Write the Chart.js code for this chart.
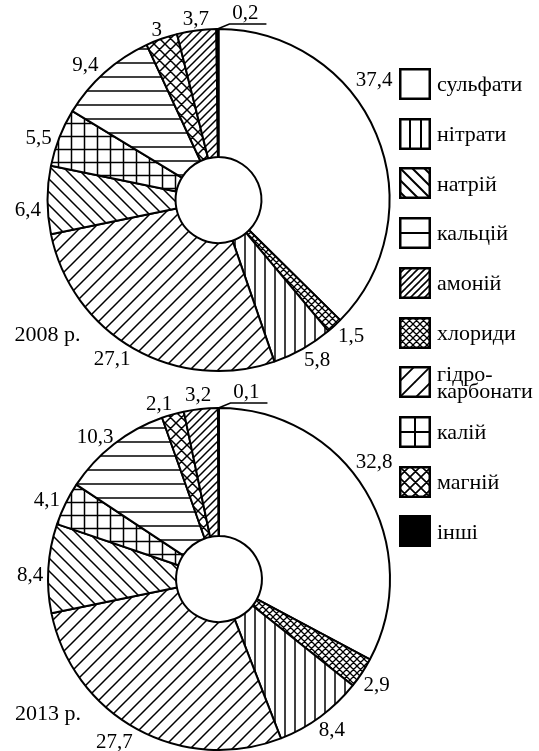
<!DOCTYPE html>
<html><head><meta charset="utf-8">
<script src="https://cdn.jsdelivr.net/npm/chart.js@4.4.0/dist/chart.umd.min.js"></script>
<style>
html,body{margin:0;padding:0;background:#fff;width:539px;height:751px;overflow:hidden;}
#wrap{position:relative;width:539px;height:751px;background:#fff;}
canvas.pie{position:absolute;left:0;}
#legend{position:absolute;left:399px;top:68px;font-family:"Liberation Serif","Times New Roman",serif;font-size:22px;color:#000;}
.row{position:absolute;left:0;height:32px;display:flex;align-items:center;white-space:nowrap;}
.row canvas{display:block;margin-right:6px;flex:none;}
.lbl{line-height:17.5px;}
</style></head><body>
<div id="wrap">
<canvas id="c1" class="pie" width="437" height="400" style="top:0"></canvas>
<canvas id="c2" class="pie" width="438" height="400" style="top:379px"></canvas>
<div id="legend"></div>
</div>
<script>
// ---- data ----
const categories = ['сульфати','хлориди','нітрати','гідрокарбонати','натрій','калій','кальцій','магній','амоній','інші'];
const values2008 = [37.4, 1.5, 5.8, 27.1, 6.4, 5.5, 9.4, 3, 3.7, 0.2];
const values2013 = [32.8, 2.9, 8.4, 27.7, 8.4, 4.1, 10.3, 2.1, 3.2, 0.1];
const yearLabels = ['2008 р.', '2013 р.'];
const legendOrder = ['сульфати','нітрати','натрій','кальцій','амоній','хлориди','гідрокарбонати','калій','магній','інші'];
const legendTexts = ['сульфати','нітрати','натрій','кальцій','амоній','хлориди','гідро-\nкарбонати','калій','магній','інші'];

// ---- style: label placement within each slice ----
const labelFrac2008 = [0.39, 0.2, 0.40, 0.54, 0.36, 0.37, 0.41, 0.44, 0.52, 0.5];
const labelPad2008  = [25, 19, 17, 21, 20, 19, 18, 9, 11, 0];
const labelFrac2013 = [0.45, 0.56, 0.49, 0.54, 0.42, 0.385, 0.415, 0.07, 0.47, 0.5];
const labelPad2013  = [23, 19, 18, 23, 18, 18, 17.5, 14, 14, 0];

// ---- patterns ----
const LW = 1.5;
function makeTile(size, draw, lw){
  const c = document.createElement('canvas');
  c.width = c.height = size;
  const x = c.getContext('2d');
  x.fillStyle = '#fff'; x.fillRect(0,0,size,size);
  x.strokeStyle = '#000'; x.lineWidth = lw || LW; x.lineCap = 'square';
  x.beginPath(); draw(x, size); x.stroke();
  return c;
}
const fwd = (x,s)=>{ for(let k=-1;k<=1;k++){ x.moveTo(k*s, s); x.lineTo(k*s+s, 0);} };
const back = (x,s)=>{ for(let k=-1;k<=1;k++){ x.moveTo(k*s, 0); x.lineTo(k*s+s, s);} };
const vert = (x,s)=>{ x.moveTo(s/2,0); x.lineTo(s/2,s); };
const hor = (x,s)=>{ x.moveTo(0,s/2); x.lineTo(s,s/2); };
const vertEdge = (x,s)=>{ x.moveTo(0,0); x.lineTo(0,s); x.moveTo(s,0); x.lineTo(s,s); };
const horEdge = (x,s)=>{ x.moveTo(0,0); x.lineTo(s,0); x.moveTo(0,s); x.lineTo(s,s); };
const cross = (x,s)=>{ fwd(x,s); back(x,s); };

const ringTiles = {
  'сульфати': null,
  'нітрати': makeTile(10, vert),
  'натрій': makeTile(13, back),
  'кальцій': makeTile(14, hor),
  'амоній': makeTile(8, fwd),
  'хлориди': makeTile(7, cross, 1.3),
  'гідрокарбонати': makeTile(14, fwd),
  'калій': makeTile(13, (x,s)=>{ vert(x,s); hor(x,s); }),
  'магній': makeTile(11, cross),
  'інші': 'black'
};
const legendTiles = {
  'сульфати': null,
  'нітрати': makeTile(11, vertEdge, 2),
  'натрій': makeTile(12, back, 2),
  'кальцій': makeTile(16, horEdge, 2),
  'амоній': makeTile(7, fwd, 1.6),
  'хлориди': makeTile(7, cross, 1.3),
  'гідрокарбонати': makeTile(16, fwd, 1.8),
  'калій': makeTile(16, (x,s)=>{ vertEdge(x,s); horEdge(x,s); }, 2),
  'магній': makeTile(11, cross, 1.6),
  'інші': 'black'
};
function fillFor(ctx, tiles, name){
  const t = tiles[name];
  if (t === null) return '#fff';
  if (typeof t === 'string') return t;
  return ctx.createPattern(t, 'repeat');
}

// ---- label plugin ----
const sliceLabels = {
  id: 'sliceLabels',
  afterDatasetsDraw(chart, args, opts){
    const ctx = chart.ctx;
    const meta = chart.getDatasetMeta(0);
    const data = chart.data.datasets[0].data;
    ctx.save();
    ctx.font = '21px "Liberation Serif", "Times New Roman", serif';
    ctx.fillStyle = '#000'; ctx.strokeStyle = '#000';
    let cx = 0, cy = 0;
    meta.data.forEach((arc, i) => {
      const p = arc.getProps(['x','y','startAngle','endAngle','outerRadius'], true);
      cx = p.x; cy = p.y;
      const txt = String(data[i]).replace('.', ',');
      if (i === data.length - 1) {
        const a = (p.startAngle + p.endAngle) / 2;
        const x0 = p.x + p.outerRadius * Math.cos(a), y0 = p.y + p.outerRadius * Math.sin(a);
        ctx.beginPath(); ctx.moveTo(x0, y0); ctx.lineTo(x0 + 12, y0 - 5); ctx.lineTo(x0 + 49, y0 - 5);
        ctx.lineWidth = 1.5; ctx.stroke();
        ctx.textAlign = 'center'; ctx.textBaseline = 'alphabetic';
        ctx.fillText(txt, x0 + 28, y0 - 10);
      } else {
        const a = p.startAngle + (p.endAngle - p.startAngle) * opts.frac[i];
        const r = p.outerRadius + opts.pad[i];
        ctx.textAlign = 'center'; ctx.textBaseline = 'middle';
        ctx.fillText(txt, p.x + r * Math.cos(a), p.y + r * Math.sin(a));
      }
    });
    ctx.font = '22px "Liberation Serif", "Times New Roman", serif';
    ctx.textAlign = 'left'; ctx.textBaseline = 'middle';
    ctx.fillText(opts.year, cx - 204, cy + 135);
    ctx.restore();
  }
};

function makeChart(id, values, year, frac, pad){
  const el = document.getElementById(id);
  const ctx = el.getContext('2d');
  return new Chart(ctx, {
    type: 'doughnut',
    data: {
      labels: categories,
      datasets: [{
        data: values,
        backgroundColor: categories.map(n => fillFor(ctx, ringTiles, n)),
        borderColor: '#000',
        borderWidth: 2,
        borderAlign: 'center'
      }]
    },
    options: {
      responsive: false,
      animation: false,
      events: [],
      radius: 171,
      cutout: 50,
      layout: { padding: 0 },
      plugins: {
        legend: { display: false },
        tooltip: { enabled: false },
        sliceLabels: { frac, pad, year }
      }
    },
    plugins: [sliceLabels]
  });
}
makeChart('c1', values2008, yearLabels[0], labelFrac2008, labelPad2008);
makeChart('c2', values2013, yearLabels[1], labelFrac2013, labelPad2013);

// ---- legend ----
const legend = document.getElementById('legend');
legendOrder.forEach((name, i) => {
  const row = document.createElement('div');
  row.className = 'row';
  row.style.top = (i * 49.7) + 'px';
  const sw = document.createElement('canvas');
  sw.width = 32; sw.height = 32;
  const sc = sw.getContext('2d');
  sc.fillStyle = fillFor(sc, legendTiles, name);
  sc.fillRect(0, 0, 32, 32);
  sc.strokeStyle = '#000'; sc.lineWidth = 2.5;
  sc.strokeRect(1.25, 1.25, 29.5, 29.5);
  row.appendChild(sw);
  const lb = document.createElement('div');
  lb.className = 'lbl';
  lb.innerText = legendTexts[i];
  row.appendChild(lb);
  legend.appendChild(row);
});
</script>
</body></html>
